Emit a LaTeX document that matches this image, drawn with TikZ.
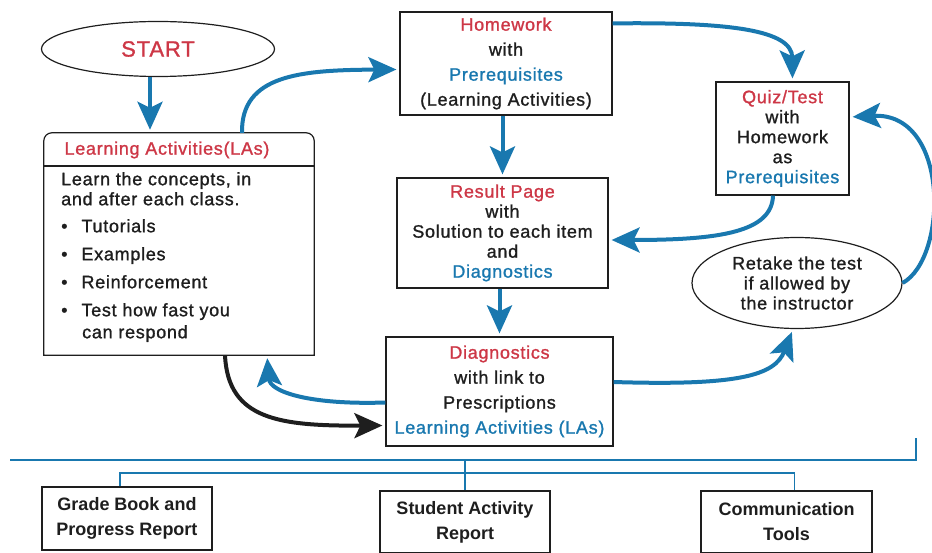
\documentclass[tikz,border=0pt]{standalone}
\usepackage{fontspec}
\setmainfont[LetterSpace=4, FakeBold=1.2]{Liberation Sans}
\newfontfamily\boxfont{Liberation Sans}
\usepackage{xcolor}
\usetikzlibrary{arrows.meta, shapes.geometric}
\definecolor{lared}{RGB}{205,55,70}
\definecolor{lablue}{RGB}{25,120,175}
\definecolor{ink}{RGB}{30,30,30}

\begin{document}
\begin{tikzpicture}[x=1pt, y=-1pt,
    every node/.style={font=\fontsize{18}{20}\selectfont, text=ink},
    box/.style={draw=ink, line width=1.2pt, align=center, inner sep=0pt},
    flow/.style={lablue, line width=4pt, shorten >=3pt, -{Stealth[length=28pt, width=25pt, inset=6pt]}},
    tree/.style={lablue, line width=1.6pt},
    report/.style={box, minimum width=170pt, minimum height=62pt, font=\boxfont\bfseries\fontsize{18}{25}\selectfont}]
    \useasboundingbox (0,0) rectangle (932,553);

    \node[ellipse, draw=ink, line width=1.2pt, minimum width=233pt, minimum height=55pt, inner sep=0pt,
        font=\fontsize{22}{24}\selectfont, text=lared] (start) at (158,49) {START};

    \node[minimum width=270pt, minimum height=222pt, inner sep=0pt] (la) at (179,244) {};
    \draw[ink, line width=1.2pt] (la.south west) [rounded corners=8pt] -- (la.north west) -- (la.north east) [sharp corners] -- (la.south east) -- cycle;
    \node[text=lared] (latitle) at (167,150) {Learning Activities(LAs)};
    \draw[ink, line width=1.2pt] (la.west |- 0,166) -- (la.east |- 0,166);
    \node[anchor=north west, align=left, inner sep=0pt] (labody) at (61,172) {Learn the concepts, in\\
        and after each class.\\[7pt]
        \textbullet\hspace{14pt}Tutorials\\[8pt]
        \textbullet\hspace{14pt}Examples\\[8pt]
        \textbullet\hspace{14pt}Reinforcement\\[8pt]
        \textbullet\hspace{14pt}Test how fast you\\[2pt]
        \hspace*{21pt}can respond};

    \node[box, minimum width=212pt, minimum height=103pt] (hw) at (506,63.5) {\textcolor{lared}{Homework}\\[5pt]
        with\\[5pt] \textcolor{lablue}{Prerequisites}\\[5pt] (Learning Activities)};
    \node[box, minimum width=211pt, minimum height=110pt] (res) at (502.5,233) {\textcolor{lared}{Result Page}\\
        with\\ Solution to each item\\ and\\ \textcolor{lablue}{Diagnostics}};
    \node[box, minimum width=227pt, minimum height=109pt] (diag) at (499.5,391.5) {\textcolor{lared}{Diagnostics}\\[5pt]
        with link to\\[5pt] Prescriptions\\[5pt] \textcolor{lablue}{Learning Activities (LAs)}};
    \node[box, minimum width=133pt, minimum height=113pt] (quiz) at (782.5,138.5) {\textcolor{lared}{Quiz/Test}\\
        with\\ Homework\\ as\\ \textcolor{lablue}{Prerequisites}};
    \node[box, ellipse, minimum width=210pt, minimum height=91pt] (retake) at (797,283) {Retake the test\\
        if allowed by\\ the instructor};

    \node[report, minimum height=63pt] (grade) at (127,518.5) {Grade Book and\\ Progress Report};
    \node[report] (student) at (465,522) {Student Activity\\ Report};
    \node[report, minimum width=171pt] (comm) at (786.5,522) {Communication\\ Tools};

    \coordinate (busL) at (10,460);
    \coordinate (busR) at (916,460);
    \coordinate (branch) at (0,473);
    \draw[tree] (busL) -- (busR) -- ++(0,-22);
    \draw[tree] (busL -| student.north) -- (student.north);
    \draw[tree] ([xshift=-7pt]grade.north) |- ([xshift=8pt]comm.north |- branch) -- ([xshift=8pt]comm.north);

    \draw[flow] ([xshift=-8pt]start.south) -- ([xshift=-8pt]start.south |- la.north);
    \draw[flow] ([xshift=63pt]la.north) .. controls (241,75) and (300,70) .. ([yshift=-6pt]hw.west);
    \draw[flow] (res.north |- hw.south) -- (res.north);
    \draw[flow] (diag.north |- res.south) -- (diag.north);
    \draw[flow] ([yshift=-12pt]hw.north east) .. controls (730,22) and (792,30) .. ([xshift=10pt]quiz.north);
    \draw[flow] ([xshift=-9.5pt]quiz.south) .. controls (772,232) and (720,240) .. ([yshift=-7pt]res.east);
    \draw[flow] (retake.east) .. controls (948,258) and (950,112) .. ([yshift=21.5pt]quiz.east);
    \draw[flow] ([yshift=9.5pt]diag.east) .. controls (740,386) and (775,375) .. ([xshift=-4pt]retake.south);
    \draw[flow] ([yshift=-11pt]diag.west) .. controls (310,405) and (270,392) .. ([xshift=88pt]la.south);
    \draw[flow, ink] ([xshift=46pt]la.south) .. controls (228,420) and (280,426) .. ([yshift=-34pt]diag.west);
\end{tikzpicture}
\end{document}
